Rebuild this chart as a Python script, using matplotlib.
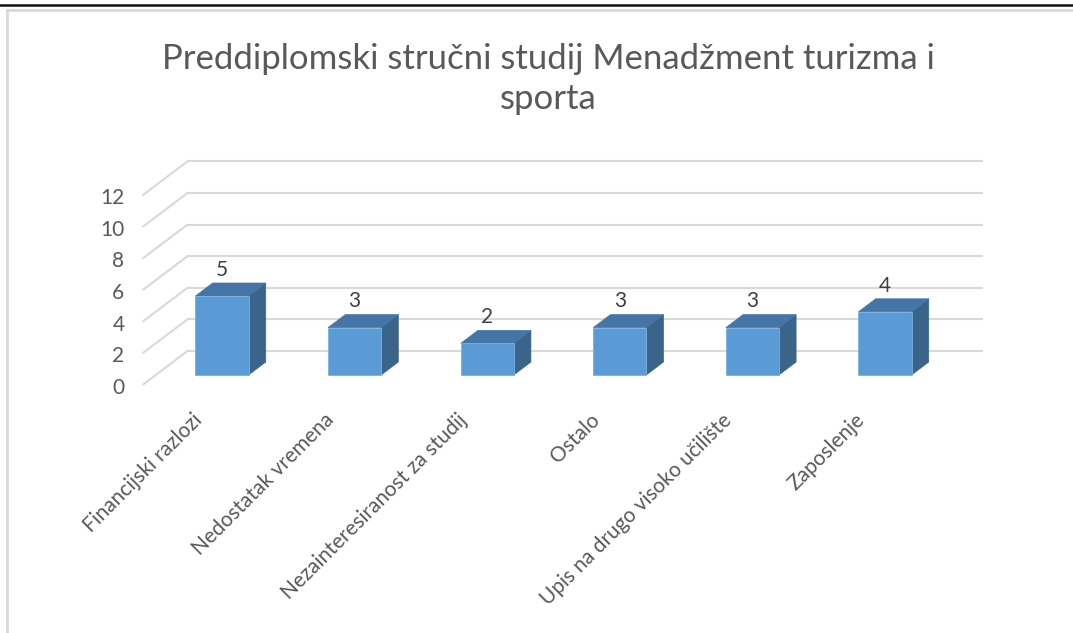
import matplotlib
matplotlib.use("Agg")
import matplotlib.pyplot as plt
from matplotlib.patches import Polygon

plt.rcParams['font.family'] = ['Lato', 'DejaVu Sans']

# data
categories = ["Financijski razlozi", "Nedostatak vremena", "Nezainteresiranost za studij",
              "Ostalo", "Upis na drugo visoko učilište", "Zaposlenje"]
values = [5, 3, 2, 3, 3, 4]
y_ticks = [0, 2, 4, 6, 8, 10, 12]
title = "Preddiplomski stručni studij Menadžment turizma i\nsporta"

# colours
front_c = "#5B9BD5"
top_c = "#4574A6"
side_c = "#3A6489"
grid_c = "#D9D9D9"
text_c = "#595959"

W, H = 1073, 633
fig = plt.figure(figsize=(W / 100, H / 100), dpi=100)

# axes = plane of the bars' front faces (pixel layout of the original chart)
px_x = 132.6   # pixels per category
px_y = 15.8    # pixels per unit value
ax_left, ax_base = 155.7, 375
ax = fig.add_axes([ax_left / W, (H - ax_base) / H, 6 * px_x / W, 12 * px_y / H])
ax.set_xlim(-0.5, 5.5)
ax.set_ylim(0, 12)
ax.axis("off")

# fake 3d depth: full depth from axis front plane to back wall, in data units
DX, DY = 45 / px_x, 34 / px_y
def off(d):
    return d * DX, d * DY

front_d = -0.294   # axis/label plane
bar_d = 0.382      # depth of bars
wall_d = 0.706     # back wall

bw = 0.4
n = len(categories)
xs = list(range(n))

# back wall gridlines + diagonals
wx, wy = off(wall_d)
fx, fy = off(front_d)
for v in y_ticks:
    ax.plot([-0.5 + wx, n - 0.5 + wx], [v + wy, v + wy], color=grid_c, lw=1.5,
            clip_on=False, zorder=1, solid_capstyle="butt")
    ax.plot([-0.5 + wx, -0.5 + fx], [v + wy, v + fy], color=grid_c, lw=1.5,
            clip_on=False, zorder=1, solid_capstyle="butt")
    ax.annotate(str(v), xy=(-0.5 + fx, v + fy), xytext=(-13, -2), textcoords="offset points",
                ha="right", va="center", fontsize=15, color=text_c, annotation_clip=False)

# bars
bx, by = off(bar_d)
for x, v in zip(xs, values):
    x0, x1 = x - bw / 2, x + bw / 2
    side = Polygon([(x1, 0), (x1 + bx, by), (x1 + bx, v + by), (x1, v)],
                   closed=True, facecolor=side_c, edgecolor=side_c, lw=0.5, zorder=3, clip_on=False)
    top = Polygon([(x0, v), (x1, v), (x1 + bx, v + by), (x0 + bx, v + by)],
                  closed=True, facecolor=top_c, edgecolor=top_c, lw=0.5, zorder=3, clip_on=False)
    ax.add_patch(side)
    ax.add_patch(top)
    ax.annotate(str(v), xy=(x, v + by), xytext=(0, 9.5), textcoords="offset points",
                ha="center", va="center", fontsize=15, color="#404040", annotation_clip=False)
ax.bar(xs, values, width=bw, color=front_c, edgecolor="#7DB0E0", lw=0.6, zorder=4, clip_on=False)

# category labels, rotated
for x, lab in zip(xs, categories):
    ax.annotate(lab, xy=(x, 0), xytext=(-22, -25), textcoords="offset points",
                ha="right", va="top", rotation=45, rotation_mode="anchor",
                fontsize=15, color=text_c, annotation_clip=False)

# title
fig.text(548 / W, 1 - 79 / H, title, ha="center", va="center", fontsize=25,
         color=text_c, linespacing=1.32)

# chart area border and page line
fig.add_artist(plt.Line2D([0, 1], [1 - 5 / H, 1 - 5 / H], color="#111111", lw=1.8))
fig.add_artist(plt.Line2D([7 / W, 1], [1 - 10 / H, 1 - 10 / H], color=grid_c, lw=2))
fig.add_artist(plt.Line2D([7 / W, 7 / W], [0, 1 - 10 / H], color=grid_c, lw=2))

fig.savefig("out.png", dpi=100)
